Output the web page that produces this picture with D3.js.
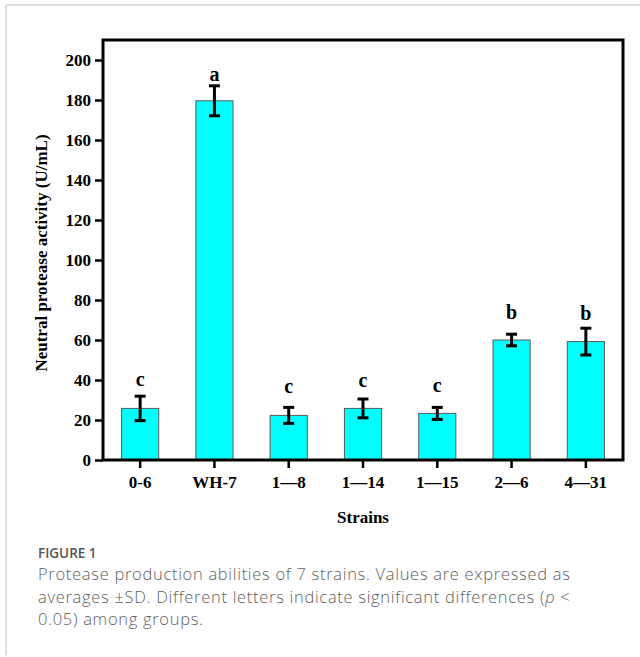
<!DOCTYPE html>
<html>
<head>
<meta charset="utf-8">
<script src="https://cdn.jsdelivr.net/npm/d3@7"></script>
<style>
  body { margin: 0; background: #fff; }
  svg text { font-family: "Liberation Serif", "Times New Roman", serif; font-weight: bold; }
  svg text.cap { font-family: "Open Sans", sans-serif; font-weight: 300; fill: #5f5f5f; }
</style>
</head>
<body>
<svg id="chart" width="640" height="657"></svg>
<script>
(function() {
const strains = ['0-6', 'WH-7', '1\u20148', '1\u201414', '1\u201415', '2\u20146', '4\u201431'];
const means = [25.8, 179.6, 22.3, 25.8, 23.3, 60, 59.2];
const sds = [6.1, 7.5, 4, 4.7, 3, 2.9, 6.7];
const letters = ['c', 'a', 'c', 'c', 'c', 'b', 'b'];
const letterAt = [37, 189.7, 33.3, 36.7, 34.2, 70.3, 70];
const yTicks = [0, 20, 40, 60, 80, 100, 120, 140, 160, 180, 200];
const caption = [
  'Protease production abilities of 7 strains. Values are expressed as',
  'averages \u00b1SD. Different letters indicate significant differences (p <',
  '0.05) among groups.'
];

const svg = d3.select('svg#chart');
const margin = { top: 40, right: 17, bottom: 197, left: 103 };
const width = +svg.attr('width') - margin.left - margin.right;
const height = +svg.attr('height') - margin.top - margin.bottom;

// card edges
svg.append('line').attr('x1', 6).attr('x2', 640).attr('y1', 5).attr('y2', 5)
  .attr('stroke', '#d6d6d6').attr('stroke-width', 1.5);
svg.append('line').attr('x1', 6).attr('x2', 6).attr('y1', 5).attr('y2', 655)
  .attr('stroke', '#d6d6d6').attr('stroke-width', 1.5);

const g = svg.append('g').attr('transform', `translate(${margin.left},${margin.top})`);
const x = d3.scaleBand().domain(strains).range([0, width]).paddingInner(0.5).paddingOuter(0.25);
const y = d3.scaleLinear().domain([0, 210]).range([height, 0]);

g.selectAll('rect.bar')
  .data(strains)
  .join('rect')
  .attr('class', 'bar')
  .attr('x', d => x(d))
  .attr('y', (d, i) => y(means[i]))
  .attr('width', x.bandwidth())
  .attr('height', (d, i) => y(0) - y(means[i]))
  .attr('fill', '#00ffff')
  .attr('stroke', '#5a5a5a')
  .attr('stroke-width', 1);

// error bars
const err = g.selectAll('g.err').data(strains).join('g').attr('class', 'err')
  .attr('transform', d => `translate(${x(d) + x.bandwidth() / 2},0)`);
err.append('line')
  .attr('y1', (d, i) => y(means[i] + sds[i])).attr('y2', (d, i) => y(means[i] - sds[i]))
  .attr('stroke', '#000').attr('stroke-width', 3);
err.append('line')
  .attr('x1', -5.5).attr('x2', 5.5)
  .attr('y1', (d, i) => y(means[i] + sds[i])).attr('y2', (d, i) => y(means[i] + sds[i]))
  .attr('stroke', '#000').attr('stroke-width', 3);
err.append('line')
  .attr('x1', -5.5).attr('x2', 5.5)
  .attr('y1', (d, i) => y(means[i] - sds[i])).attr('y2', (d, i) => y(means[i] - sds[i]))
  .attr('stroke', '#000').attr('stroke-width', 3);

// significance letters
g.selectAll('text.sig').data(strains).join('text')
  .attr('class', 'sig')
  .attr('x', d => x(d) + x.bandwidth() / 2)
  .attr('y', (d, i) => y(letterAt[i]))
  .attr('text-anchor', 'middle')
  .style('font-size', '20px')
  .text((d, i) => letters[i]);

// axes
const yAxis = g.append('g')
  .call(d3.axisLeft(y).tickValues(yTicks).tickSize(8).tickPadding(4));
const xAxis = g.append('g').attr('transform', `translate(0,${height})`)
  .call(d3.axisBottom(x).tickSize(8).tickPadding(8));
[yAxis, xAxis].forEach(a => {
  a.select('.domain').remove();
  a.selectAll('.tick line').attr('stroke', '#000').attr('stroke-width', 2.5);
  a.selectAll('.tick text').attr('fill', '#000')
    .style('font-family', '"Liberation Serif", serif').style('font-weight', 'bold').style('font-size', '17px');
});

// frame
g.append('rect')
  .attr('x', 0).attr('y', 0).attr('width', width).attr('height', height)
  .attr('fill', 'none').attr('stroke', '#000').attr('stroke-width', 3);

g.append('text')
  .attr('transform', `translate(${41 - margin.left},${253 - margin.top}) rotate(-90)`)
  .attr('text-anchor', 'middle')
  .attr('dy', '0.35em')
  .style('font-size', '17px')
  .text('Neutral protease activity (U/mL)');

g.append('text')
  .attr('x', width / 2).attr('y', 483)
  .attr('text-anchor', 'middle')
  .style('font-size', '17px')
  .text('Strains');

// caption
svg.append('text').attr('class', 'cap')
  .attr('x', 38).attr('y', 558)
  .style('font-size', '13.5px').style('font-weight', 600).style('fill', '#555')
  .text('FIGURE 1');
caption.forEach((line, i) => {
  const t = svg.append('text').attr('class', 'cap')
    .attr('x', 38).attr('y', 580 + i * 22.5)
    .style('font-size', '16.5px')
    .style('letter-spacing', '0.7px');
  if (i === 1) {
    const parts = line.split('p <');
    t.append('tspan').text(parts[0]);
    t.append('tspan').style('font-style', 'italic').text('p');
    t.append('tspan').text(' <');
  } else {
    t.text(line);
  }
});
})();
</script>
</body>
</html>
